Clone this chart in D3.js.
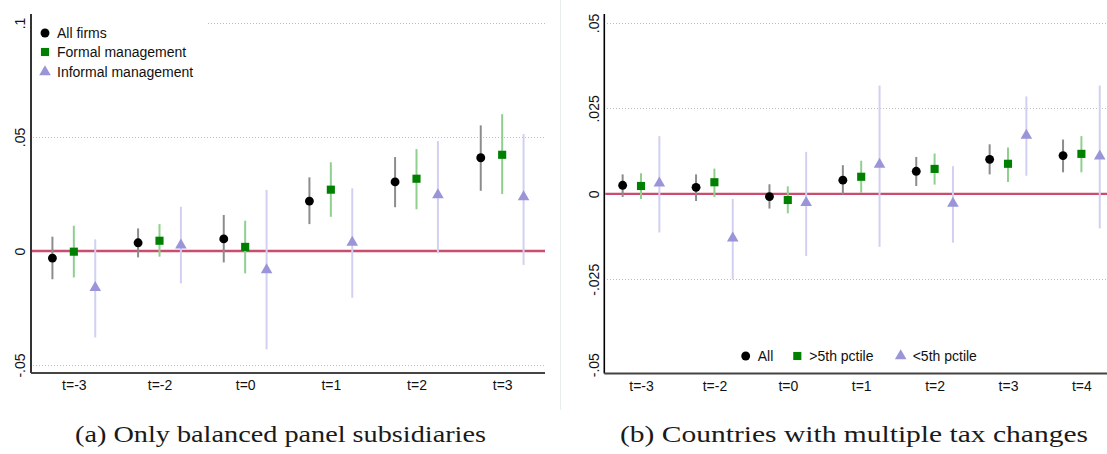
<!DOCTYPE html>
<meta charset="utf-8">
<html>
<head>
    <title>Event study panels</title>
    <script src="https://cdn.jsdelivr.net/npm/d3@7"></script>
</head>
<style>
    body { margin: 0; background: #fff; }
    svg { width: 1107px; height: 454px; display: block; }
    text { font-family: "Liberation Sans", Arial, sans-serif; font-size: 14px; fill: #111; }
    .caption { font-family: "Liberation Serif", "Times New Roman", serif; font-size: 23px; fill: #1a1a1a; }
    .grid { stroke: #bdbdbd; stroke-width: 1; stroke-dasharray: 1,2; }
</style>
<body>
<svg></svg>
<script>
    // ---------------- panel (a) data ----------------
    const catsA = ["t=-3", "t=-2", "t=0", "t=1", "t=2", "t=3"]
    const allA    = [-0.0031, 0.0036, 0.0053, 0.0219, 0.0303, 0.0409]
    const allA_lo = [-0.0124, -0.0028, -0.0050, 0.0118, 0.0192, 0.0264]
    const allA_hi = [0.0063, 0.0099, 0.0158, 0.0323, 0.0412, 0.0551]
    const formalA    = [-0.0003, 0.0045, 0.0018, 0.0269, 0.0317, 0.0422]
    const formalA_lo = [-0.0116, -0.0025, -0.0098, 0.0150, 0.0183, 0.0250]
    const formalA_hi = [0.0111, 0.0118, 0.0133, 0.0389, 0.0447, 0.0600]
    const informalA    = [-0.0161, 0.0026, -0.0083, 0.0038, 0.0246, 0.0237]
    const informalA_lo = [-0.0379, -0.0142, -0.0431, -0.0205, -0.0010, -0.0061]
    const informalA_hi = [0.0051, 0.0194, 0.0268, 0.0275, 0.0482, 0.0513]
    const ticksA = [0.1, 0.05, 0, -0.05]
    const tickLabelsA = [".1", ".05", "0", "-.05"]
    const legendA = ["All firms", "Formal management", "Informal management"]

    // ---------------- panel (b) data ----------------
    const catsB = ["t=-3", "t=-2", "t=0", "t=1", "t=2", "t=3", "t=4"]
    const allB    = [0.0025, 0.0019, -0.0008, 0.0040, 0.0066, 0.0101, 0.0112]
    const allB_lo = [-0.0009, -0.0021, -0.0043, -0.0002, 0.0023, 0.0057, 0.0063]
    const allB_hi = [0.0057, 0.0057, 0.0028, 0.0084, 0.0108, 0.0145, 0.0159]
    const aboveB    = [0.0023, 0.0034, -0.0018, 0.0050, 0.0073, 0.0088, 0.0117]
    const aboveB_lo = [-0.0015, -0.0009, -0.0057, 0.0003, 0.0027, 0.0035, 0.0063]
    const aboveB_hi = [0.0060, 0.0074, 0.0022, 0.0097, 0.0118, 0.0136, 0.0169]
    const belowB    = [0.0031, -0.0130, -0.0026, 0.0086, -0.0028, 0.0171, 0.0110]
    const belowB_lo = [-0.0113, -0.0250, -0.0182, -0.0155, -0.0143, 0.0053, -0.0101]
    const belowB_hi = [0.0169, -0.0015, 0.0123, 0.0317, 0.0081, 0.0285, 0.0317]
    const ticksB = [0.05, 0.025, 0, -0.025, -0.05]
    const tickLabelsB = [".05", ".025", "0", "-.025", "-.05"]
    const legendB = ["All", ">5th pctile", "<5th pctile"]

    const captions = ["(a) Only balanced panel subsidiaries", "(b) Countries with multiple tax changes"]

    // ---------------- styles ----------------
    const markerColor = ["#000000", "#008000", "#9a94d8"]
    const ciColor = ["#8c8c8c", "#8fd08f", "#d2d0f2"]
    const symbols = [d3.symbolCircle, d3.symbolSquare, d3.symbolTriangle]
    const symbolSize = [62, 66, 58]
    const offsets = [-0.25, 0, 0.25]

    const svg = d3.select("svg")

    // faint frame of the second sub-figure
    svg.append("line").attr("x1", 560.5).attr("x2", 560.5).attr("y1", 0).attr("y2", 410)
        .attr("stroke", "#e6efea").attr("stroke-width", 1)

    function panel(cfg) {
        const g = svg.append("g")
        const x = d3.scaleLinear().domain([-0.5, cfg.cats.length - 0.5]).range(cfg.xr)
        const y = d3.scaleLinear().domain(cfg.ydom).range(cfg.yr)

        // gridlines
        g.selectAll(".grid").data(cfg.grid).enter().append("line")
            .attr("class", "grid")
            .attr("x1", d => d[1]).attr("x2", cfg.plotRight)
            .attr("y1", d => Math.round(y(d[0])) + 0.5).attr("y2", d => Math.round(y(d[0])) + 0.5)

        // zero reference line
        g.append("line")
            .attr("x1", cfg.xr[0] + 1).attr("x2", cfg.plotRight)
            .attr("y1", y(0)).attr("y2", y(0))
            .attr("stroke", "#c94d6e").attr("stroke-width", 2.4)

        // axes
        const yAxis = d3.axisLeft(y).tickValues(cfg.ticks)
            .tickFormat((d, i) => cfg.tickLabels[i]).tickSize(0).tickPadding(0)
        const ya = g.append("g").attr("transform", `translate(${cfg.xr[0]},0)`).call(yAxis)
            .attr("font-family", null).attr("font-size", null)
        ya.select(".domain").remove()
        ya.selectAll("text")
            .attr("x", null).attr("dy", null).attr("y", 0)
            .attr("text-anchor", "middle")
            .attr("transform", `translate(${-cfg.labelGap},0) rotate(-90)`)

        const xAxis = d3.axisBottom(x).tickValues(d3.range(cfg.cats.length))
            .tickFormat(i => cfg.cats[i]).tickSize(0).tickPadding(0)
        const xa = g.append("g").attr("transform", `translate(0,${cfg.plotBottom})`).call(xAxis)
            .attr("font-family", null).attr("font-size", null)
        xa.select(".domain").remove()
        xa.selectAll("text").attr("y", 17).attr("dy", null)

        g.append("line").attr("x1", cfg.xr[0]).attr("x2", cfg.xr[0])
            .attr("y1", cfg.plotTop).attr("y2", cfg.plotBottom)
            .attr("stroke", "#000").attr("stroke-width", 1.6)
        g.append("line").attr("x1", cfg.xr[0]).attr("x2", cfg.plotRight)
            .attr("y1", cfg.plotBottom).attr("y2", cfg.plotBottom)
            .attr("stroke", "#444").attr("stroke-width", 1.8)

        // confidence intervals
        cfg.series.forEach((s, k) => {
            g.selectAll(null).data(s.est).enter().append("line")
                .attr("x1", (d, i) => x(i + offsets[k])).attr("x2", (d, i) => x(i + offsets[k]))
                .attr("y1", (d, i) => y(s.lo[i])).attr("y2", (d, i) => y(s.hi[i]))
                .attr("stroke", ciColor[k]).attr("stroke-width", 2)
        })
        // point estimates
        cfg.series.forEach((s, k) => {
            g.selectAll(null).data(s.est).enter().append("path")
                .attr("d", d3.symbol().type(symbols[k]).size(symbolSize[k]))
                .attr("transform", (d, i) => `translate(${x(i + offsets[k])},${y(d)})`)
                .attr("fill", markerColor[k])
        })

        // legend
        if (cfg.legendBox) {
            const b = cfg.legendBox
            g.append("rect").attr("x", b[0]).attr("y", b[1]).attr("width", b[2]).attr("height", b[3])
                .attr("fill", "#fff")
        }
        cfg.legend.forEach((name, k) => {
            const p = cfg.legendPos[k]
            g.append("path").attr("d", d3.symbol().type(symbols[k]).size(symbolSize[k]))
                .attr("transform", `translate(${p[0]},${p[1]})`).attr("fill", markerColor[k])
            g.append("text").attr("x", p[0] + 12).attr("y", p[1] + 5).text(name)
        })

        // caption
        svg.append("text").attr("class", "caption")
            .attr("x", cfg.caption[0]).attr("y", cfg.caption[1])
            .attr("text-anchor", "middle")
            .attr("textLength", cfg.caption[2]).attr("lengthAdjust", "spacingAndGlyphs")
            .text(cfg.caption[3])
    }

    panel({
        cats: catsA, xr: [31, 545], ydom: [-0.05, 0.1], yr: [365, 23],
        plotTop: 14, plotBottom: 373, plotRight: 545, labelGap: 6,
        ticks: ticksA, tickLabels: tickLabelsA,
        grid: [[0.1, 208], [0.05, 33], [-0.05, 33]],
        series: [
            {est: allA, lo: allA_lo, hi: allA_hi},
            {est: formalA, lo: formalA_lo, hi: formalA_hi},
            {est: informalA, lo: informalA_lo, hi: informalA_hi}
        ],
        legend: legendA, legendBox: null,
        legendPos: [[45, 33], [45, 52], [45, 72]],
        caption: [280.5, 442, 411, captions[0]]
    })

    panel({
        cats: catsB, xr: [604.3, 1118.1], ydom: [-0.05, 0.05], yr: [364.7, 23],
        plotTop: 14, plotBottom: 373.5, plotRight: 1107, labelGap: 5,
        ticks: ticksB, tickLabels: tickLabelsB,
        grid: [[0.05, 607], [0.025, 607], [-0.025, 607]],
        series: [
            {est: allB, lo: allB_lo, hi: allB_hi},
            {est: aboveB, lo: aboveB_lo, hi: aboveB_hi},
            {est: belowB, lo: belowB_lo, hi: belowB_hi}
        ],
        legend: legendB, legendBox: null,
        legendPos: [[745.7, 356], [797.3, 356], [900.7, 356]],
        caption: [854, 442, 468, captions[1]]
    })
</script>
</body>
</html>
